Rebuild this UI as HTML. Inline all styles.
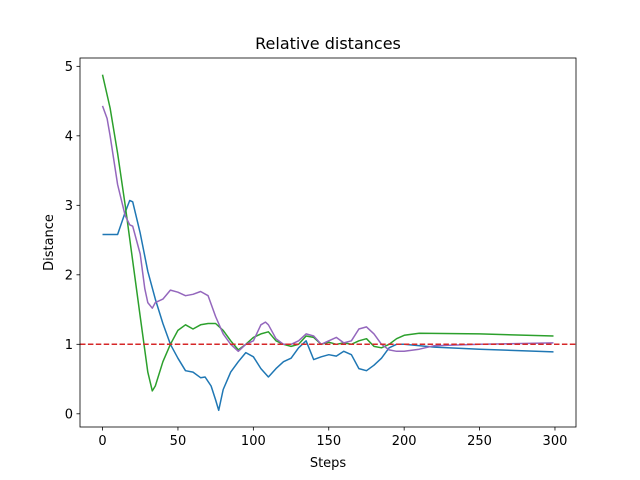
<!DOCTYPE html>
<html><head><meta charset="utf-8"><style>
body{margin:0;background:#fff;}
svg{display:block;font-family:"DejaVu Sans","Liberation Sans",sans-serif;}
</style></head><body>
<svg id="chart" width="640" height="480"></svg>
<script>
const blueX=[0,10,15,18,20,25,30,35,40,45,50,55,60,65,68,72,75,77,80,85,90,95,100,105,110,115,120,125,130,135,140,145,150,155,160,165,170,175,180,185,190,195,200,220,250,299];
const blueY=[2.58,2.58,2.9,3.07,3.05,2.6,2.05,1.65,1.3,1.0,0.8,0.62,0.6,0.52,0.53,0.4,0.2,0.05,0.35,0.6,0.75,0.88,0.82,0.65,0.53,0.65,0.75,0.8,0.95,1.05,0.78,0.82,0.85,0.83,0.9,0.85,0.65,0.62,0.7,0.8,0.95,1.0,1.0,0.96,0.93,0.89];
const greenX=[0,5,10,15,20,25,30,33,35,40,45,50,55,60,65,70,75,80,85,90,95,100,105,110,115,120,125,130,135,140,145,150,155,160,165,170,175,180,185,190,195,200,210,250,299];
const greenY=[4.88,4.4,3.75,3.0,2.2,1.4,0.6,0.33,0.4,0.75,1.0,1.2,1.28,1.22,1.28,1.3,1.3,1.2,1.05,0.92,1.0,1.1,1.15,1.18,1.05,1.0,0.97,1.0,1.12,1.1,1.0,1.03,1.0,1.02,1.0,1.05,1.08,0.97,0.95,1.0,1.08,1.13,1.16,1.15,1.12];
const purpleX=[0,3,5,10,15,18,20,25,28,30,33,35,40,45,50,55,60,65,70,75,80,85,90,95,100,105,108,110,115,120,125,130,135,140,145,150,155,160,165,170,175,180,185,190,195,200,210,220,250,299];
const purpleY=[4.43,4.25,4.0,3.3,2.85,2.72,2.7,2.3,1.8,1.6,1.52,1.6,1.65,1.78,1.75,1.7,1.72,1.76,1.7,1.4,1.15,1.0,0.9,1.0,1.05,1.28,1.32,1.28,1.08,1.0,1.0,1.05,1.15,1.12,1.0,1.05,1.1,1.02,1.05,1.22,1.25,1.15,1.0,0.92,0.9,0.9,0.93,0.98,1.0,1.02];
const xTicks=[0,50,100,150,200,250,300];
const yTicks=[0,1,2,3,4,5];
const refValue=1;

const L=80,R=576,T=58,B=427;
const xMin=-14.95,xMax=313.95,yMin=-0.19,yMax=5.12;
const sx=v=>L+(v-xMin)/(xMax-xMin)*(R-L);
const sy=v=>B-(v-yMin)/(yMax-yMin)*(B-T);
const svg=document.getElementById('chart');
const NS='http://www.w3.org/2000/svg';
function mk(tag,attrs,parent){const e=document.createElementNS(NS,tag);for(const k in attrs)e.setAttribute(k,attrs[k]);(parent||svg).appendChild(e);return e;}

const title=mk('text',{x:(L+R)/2,y:49,'text-anchor':'middle','font-size':'16',fill:'#000'});


title.textContent='Relative distances';

xTicks.forEach(t=>{
  const g=mk('g',{});
  
  
  mk('line',{x1:sx(t),x2:sx(t),y1:B,y2:B+3.5,stroke:'#000','stroke-width':0.8},g);
  const tx=mk('text',{x:sx(t),y:B+18,'text-anchor':'middle','font-size':'13',fill:'#000'},g);
  tx.textContent=t;
});
yTicks.forEach(t=>{
  const g=mk('g',{});
  
  
  mk('line',{x1:L-3.5,x2:L,y1:sy(t),y2:sy(t),stroke:'#000','stroke-width':0.8},g);
  const tx=mk('text',{x:L-7,y:sy(t)+4.5,'text-anchor':'end','font-size':'13',fill:'#000'},g);
  tx.textContent=t;
});
const xl=mk('text',{x:(L+R)/2,y:467,'text-anchor':'middle','font-size':'13',fill:'#000'});


xl.textContent='Steps';
const yl=mk('text',{x:53,y:(T+B)/2,'text-anchor':'middle','font-size':'13',fill:'#000',transform:'rotate(-90 53 '+((T+B)/2)+')'});


yl.textContent='Distance';

function series(xs,ys,color,name){
  const d=xs.map((x,i)=>(i?'L':'M')+sx(x).toFixed(1)+','+sy(ys[i]).toFixed(1)).join('');
  const p=mk('path',{d:d,fill:'none',stroke:color,'stroke-width':1.5,'stroke-linejoin':'round'});
  
  
}
series(blueX,blueY,'#1f77b4','series-blue');
series(greenX,greenY,'#2ca02c','series-green');
series(purpleX,purpleY,'#9467bd','series-purple');

const ref=mk('line',{x1:L,x2:R,y1:sy(refValue),y2:sy(refValue),stroke:'#d62728','stroke-width':1.5,'stroke-dasharray':'5.5,2.4'});



const frame=mk('rect',{x:L,y:T,width:R-L,height:B-T,fill:'none',stroke:'#000','stroke-width':0.8});


</script>
</body></html>
